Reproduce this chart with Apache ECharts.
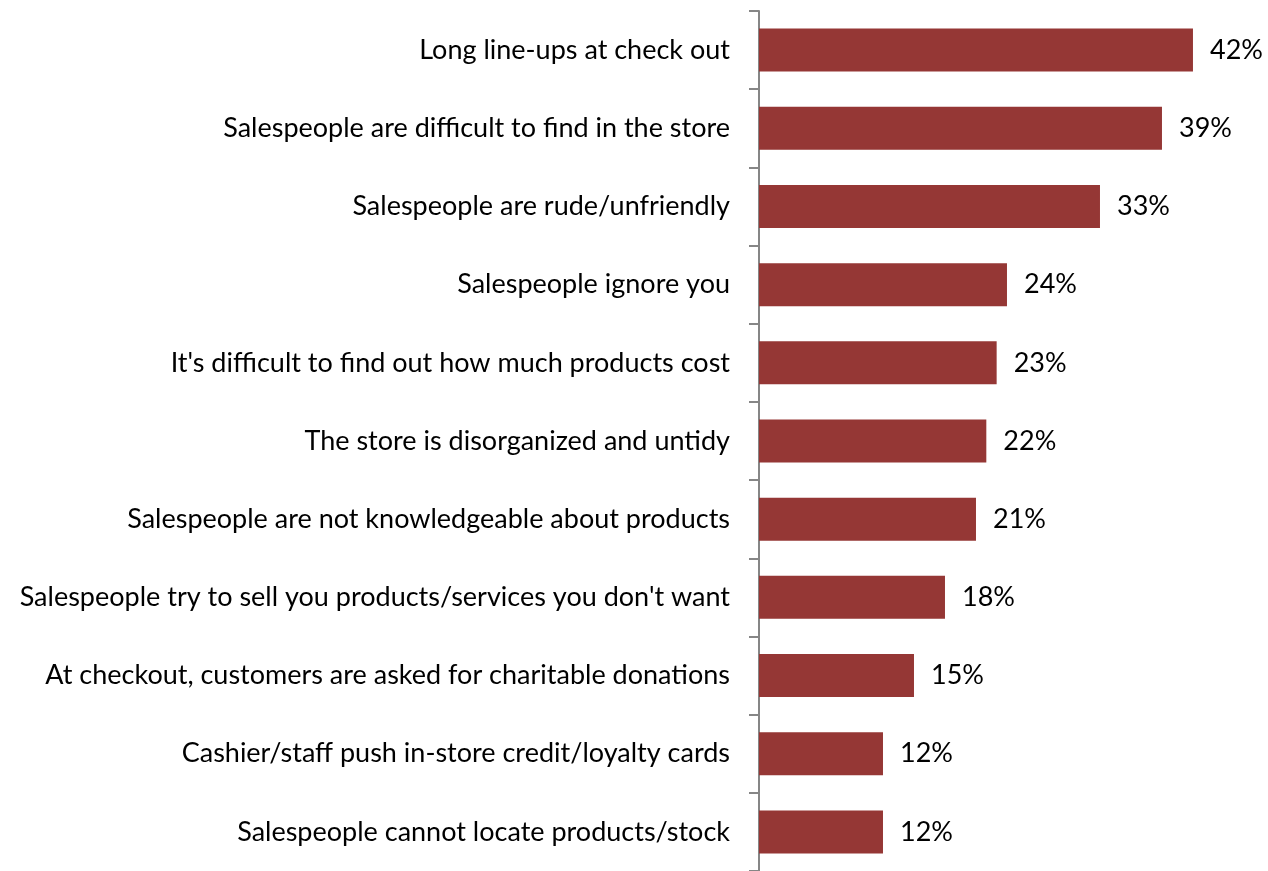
<!DOCTYPE html>
<html>
<head>
<meta charset="utf-8">
<script src="https://cdn.jsdelivr.net/npm/echarts@6/dist/echarts.min.js"></script>
<style>
  html, body { margin: 0; padding: 0; background: #ffffff; }
  #chart { width: 1268px; height: 871px; }
</style>
</head>
<body>
<div id="chart"></div>
<script>
// Store complaints, listed top to bottom
const categories = [
  "Long line-ups at check out",
  "Salespeople are difficult to find in the store",
  "Salespeople are rude/unfriendly",
  "Salespeople ignore you",
  "It's difficult to find out how much products cost",
  "The store is disorganized and untidy",
  "Salespeople are not knowledgeable about products",
  "Salespeople try to sell you products/services you don't want",
  "At checkout, customers are asked for charitable donations",
  "Cashier/staff push in-store credit/loyalty cards",
  "Salespeople cannot locate products/stock"
];
const percentages = [42, 39, 33, 24, 23, 22, 21, 18, 15, 12, 12];

const FONT = "Lato, 'Open Sans', sans-serif";

const chart = echarts.init(document.getElementById('chart'), null, { renderer: 'canvas' });

chart.setOption({
  animation: false,
  backgroundColor: '#ffffff',
  grid: { left: 759, top: 11, width: 506.3, height: 863.5, containLabel: false },
  xAxis: {
    type: 'value',
    min: 0,
    max: 49,
    show: false
  },
  yAxis: {
    type: 'category',
    data: categories,
    inverse: true,
    axisLine: { show: true, lineStyle: { color: '#868686', width: 2 } },
    axisTick: { show: true, length: 10, lineStyle: { color: '#868686', width: 2 } },
    axisLabel: {
      margin: 29,
      color: '#000000',
      fontFamily: FONT,
      fontSize: 27
    },
    splitLine: { show: false }
  },
  series: [{
    type: 'bar',
    data: percentages,
    barCategoryGap: '45%',
    itemStyle: { color: '#953735' },
    label: {
      show: true,
      position: 'right',
      distance: 17,
      color: '#000000',
      fontFamily: FONT,
      fontSize: 27,
      formatter: p => p.value + '%'
    }
  }]
});
</script>
</body>
</html>
